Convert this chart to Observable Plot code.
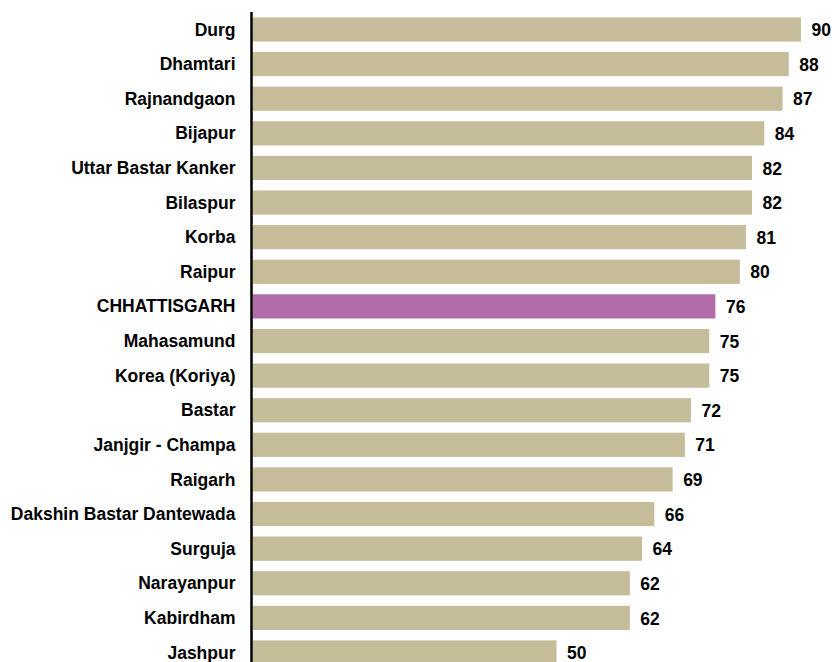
<!DOCTYPE html>
<html>
<head>
<meta charset="utf-8">
<script src="https://cdn.jsdelivr.net/npm/d3@7"></script>
<script src="https://cdn.jsdelivr.net/npm/@observablehq/plot@0.6"></script>
<style>
  html, body { margin: 0; padding: 0; background: #fff; overflow: hidden; }
  #chart svg { display: block; }
</style>
</head>
<body>
<div id="chart"></div>
<script>
const districts = [
  "Durg", "Dhamtari", "Rajnandgaon", "Bijapur", "Uttar Bastar Kanker",
  "Bilaspur", "Korba", "Raipur", "CHHATTISGARH", "Mahasamund",
  "Korea (Koriya)", "Bastar", "Janjgir - Champa", "Raigarh",
  "Dakshin Bastar Dantewada", "Surguja", "Narayanpur", "Kabirdham", "Jashpur"
];
const values = [90, 88, 87, 84, 82, 82, 81, 80, 76, 75, 75, 72, 71, 69, 66, 64, 62, 62, 50];
const highlight = "CHHATTISGARH";

const data = districts.map((d, i) => ({district: d, value: values[i], state: d === highlight}));

const chart = Plot.plot({
  width: 832,
  height: 675,
  marginLeft: 251,
  marginRight: 0.5,
  marginTop: 7,
  marginBottom: 0,
  style: {fontFamily: "'Liberation Sans', Arial, sans-serif", fontSize: "17.5px", fontWeight: "bold", color: "#000", background: "#fff"},
  x: {domain: [0, 95], axis: null},
  y: {domain: districts, padding: 0.3, round: false, label: null, tickSize: 0, tickPadding: 16},
  color: {domain: [false, true], range: ["#c5bd9a", "#b36caa"]},
  marks: [
    Plot.barX(data, {x: "value", y: "district", fill: "state", insetLeft: 1.5}),
    Plot.text(data, {x: "value", y: "district", text: d => String(d.value), textAnchor: "start", dx: 10, dy: 0.5, fontSize: 17.5, fontWeight: "bold", fill: "#000"}),
    Plot.ruleX([0], {stroke: "#000", strokeWidth: 2.5, insetTop: 5})
  ]
});
document.getElementById("chart").appendChild(chart);
</script>
</body>
</html>
